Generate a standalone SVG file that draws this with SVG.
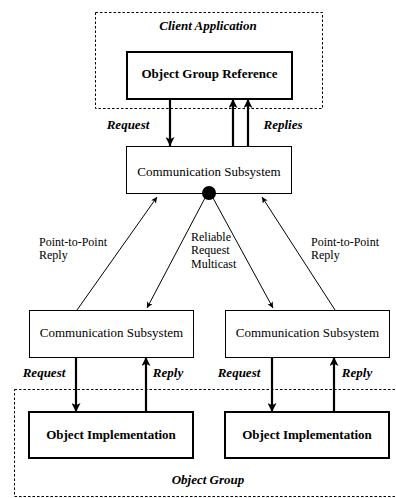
<svg xmlns="http://www.w3.org/2000/svg" width="396" height="498" viewBox="0 0 396 498">
  <defs>
    <style>
      text { font-family: "Liberation Serif", "Times New Roman", serif; font-size: 13px; fill: #000; }
      .bi { font-weight: bold; font-style: italic; }
      .b { font-weight: bold; }
      .mid { text-anchor: middle; }
      .small { font-size: 12px; }
      .thin { fill: #fff; stroke: #000; stroke-width: 1; }
      .thick { fill: #fff; stroke: #000; stroke-width: 2; }
      .group { fill: none; stroke: #000; stroke-width: 1; stroke-dasharray: 2.5 2; }
      .heavy { stroke: #000; stroke-width: 2.2; fill: none; }
      .light { stroke: #000; stroke-width: 1; fill: none; }
    </style>
    <marker id="bigHead" viewBox="0 0 10 10" refX="10" refY="5" markerUnits="userSpaceOnUse" markerWidth="10" markerHeight="9" orient="auto">
      <path d="M0,0 L10,5 L0,10 L2.5,5 z" fill="#000"/>
    </marker>
    <marker id="smallHead" viewBox="0 0 10 10" refX="10" refY="5" markerUnits="userSpaceOnUse" markerWidth="8" markerHeight="6" orient="auto">
      <path d="M0,0 L10,5 L0,10 L2.5,5 z" fill="#000"/>
    </marker>
  </defs>

  <!-- enclosing groups -->
  <g id="client-application">
    <rect class="group" x="95.5" y="12.5" width="227" height="96"/>
    <text class="bi mid" x="208" y="30">Client Application</text>
  </g>
  <g id="object-group">
    <rect class="group" x="14.5" y="389.5" width="400" height="107"/>
    <text class="bi mid" x="208" y="484">Object Group</text>
  </g>

  <!-- nodes -->
  <g id="object-group-reference">
    <rect class="thick" x="127" y="52" width="165" height="47"/>
    <text class="b mid" x="209.5" y="78">Object Group Reference</text>
  </g>
  <g id="comm-top">
    <rect class="thin" x="126.5" y="146.5" width="165" height="47"/>
    <text class="mid" x="209" y="176">Communication Subsystem</text>
  </g>
  <g id="comm-left">
    <rect class="thin" x="29.5" y="310.5" width="164" height="47"/>
    <text class="mid" x="111.5" y="337">Communication Subsystem</text>
  </g>
  <g id="comm-right">
    <rect class="thin" x="225.5" y="310.5" width="164" height="47"/>
    <text class="mid" x="307.5" y="337">Communication Subsystem</text>
  </g>
  <g id="impl-left">
    <rect class="thick" x="29" y="412" width="164" height="46"/>
    <text class="b mid" x="111" y="439">Object Implementation</text>
  </g>
  <g id="impl-right">
    <rect class="thick" x="225" y="412" width="164" height="46"/>
    <text class="b mid" x="307" y="439">Object Implementation</text>
  </g>

  <!-- connectors -->
  <g id="connectors">
    <line class="heavy" x1="170" y1="99" x2="170" y2="146" marker-end="url(#bigHead)"/>
    <line class="heavy" x1="233" y1="146" x2="233" y2="99" marker-end="url(#bigHead)"/>
    <line class="heavy" x1="248" y1="146" x2="248" y2="99" marker-end="url(#bigHead)"/>

    <circle cx="209" cy="193" r="7" fill="#000"/>
    <line class="light" x1="205" y1="198" x2="147" y2="308" marker-end="url(#smallHead)"/>
    <line class="light" x1="213" y1="198" x2="273" y2="308" marker-end="url(#smallHead)"/>
    <line class="light" x1="77" y1="310" x2="157" y2="197" marker-end="url(#smallHead)"/>
    <line class="light" x1="335" y1="310" x2="262" y2="197" marker-end="url(#smallHead)"/>

    <line class="heavy" x1="76" y1="357" x2="76" y2="412" marker-end="url(#bigHead)"/>
    <line class="heavy" x1="146" y1="412" x2="146" y2="357" marker-end="url(#bigHead)"/>
    <line class="heavy" x1="272" y1="357" x2="272" y2="412" marker-end="url(#bigHead)"/>
    <line class="heavy" x1="334" y1="412" x2="334" y2="357" marker-end="url(#bigHead)"/>
  </g>

  <!-- connector labels -->
  <g id="labels">
    <text class="bi mid" x="128" y="129">Request</text>
    <text class="bi mid" x="283" y="129">Replies</text>
    <text class="small" x="39" y="245.5">Point-to-Point</text>
    <text class="small" x="39" y="259">Reply</text>
    <text class="small" x="191" y="240.5">Reliable</text>
    <text class="small" x="191" y="254">Request</text>
    <text class="small" x="191" y="267.5">Multicast</text>
    <text class="small" x="311" y="245.5">Point-to-Point</text>
    <text class="small" x="311" y="259">Reply</text>
    <text class="bi mid" x="44" y="377">Request</text>
    <text class="bi mid" x="168" y="377">Reply</text>
    <text class="bi mid" x="239" y="377">Request</text>
    <text class="bi mid" x="357" y="377">Reply</text>
  </g>
</svg>
